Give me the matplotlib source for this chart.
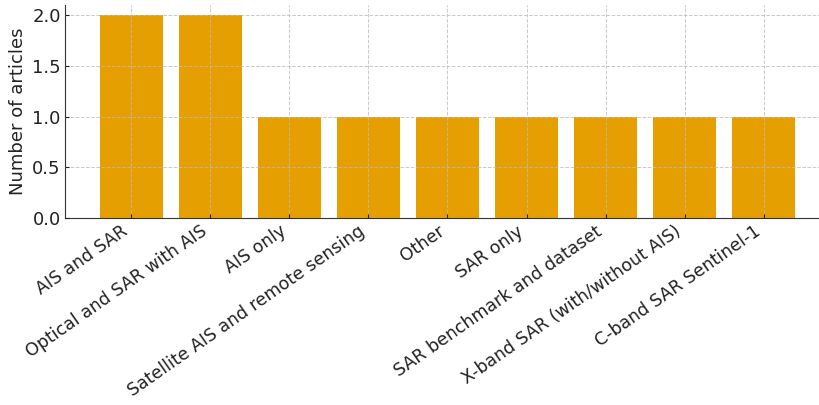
import matplotlib
matplotlib.use('Agg')
import matplotlib.pyplot as plt

categories = ['AIS and SAR', 'Optical and SAR with AIS', 'AIS only',
              'Satellite AIS and remote sensing', 'Other', 'SAR only',
              'SAR benchmark and dataset', 'X-band SAR (with/without AIS)',
              'C-band SAR Sentinel-1']
counts = [2, 2, 1, 1, 1, 1, 1, 1, 1]

fig = plt.figure(figsize=(8.2, 4.05), dpi=100)
ax = fig.add_axes([65/820, 1 - 218/405, 765/820, 213/405])

ax.bar(range(len(categories)), counts, width=0.8, color='#E69F00')
ax.set_xticks(range(len(categories)))
ax.set_xticklabels(categories, rotation=35, ha='right', fontsize=12.5, color='#222222')
ax.set_ylabel('Number of articles', fontsize=13, color='#222222')
ax.set_yticks([0, 0.5, 1.0, 1.5, 2.0])
ax.set_yticklabels(['0.0', '0.5', '1.0', '1.5', '2.0'], fontsize=13, color='#222222')
ax.tick_params(direction='in', length=3, color='#222222', pad=3)
ax.grid(True, linestyle='--', color='#bbbbbb', linewidth=0.7, alpha=0.8)
ax.set_axisbelow(False)
ax.spines['top'].set_visible(False)
ax.spines['right'].set_visible(False)
for s in ['left', 'bottom']:
    ax.spines[s].set_color('#333333')

plt.savefig('out.png', dpi=100)
